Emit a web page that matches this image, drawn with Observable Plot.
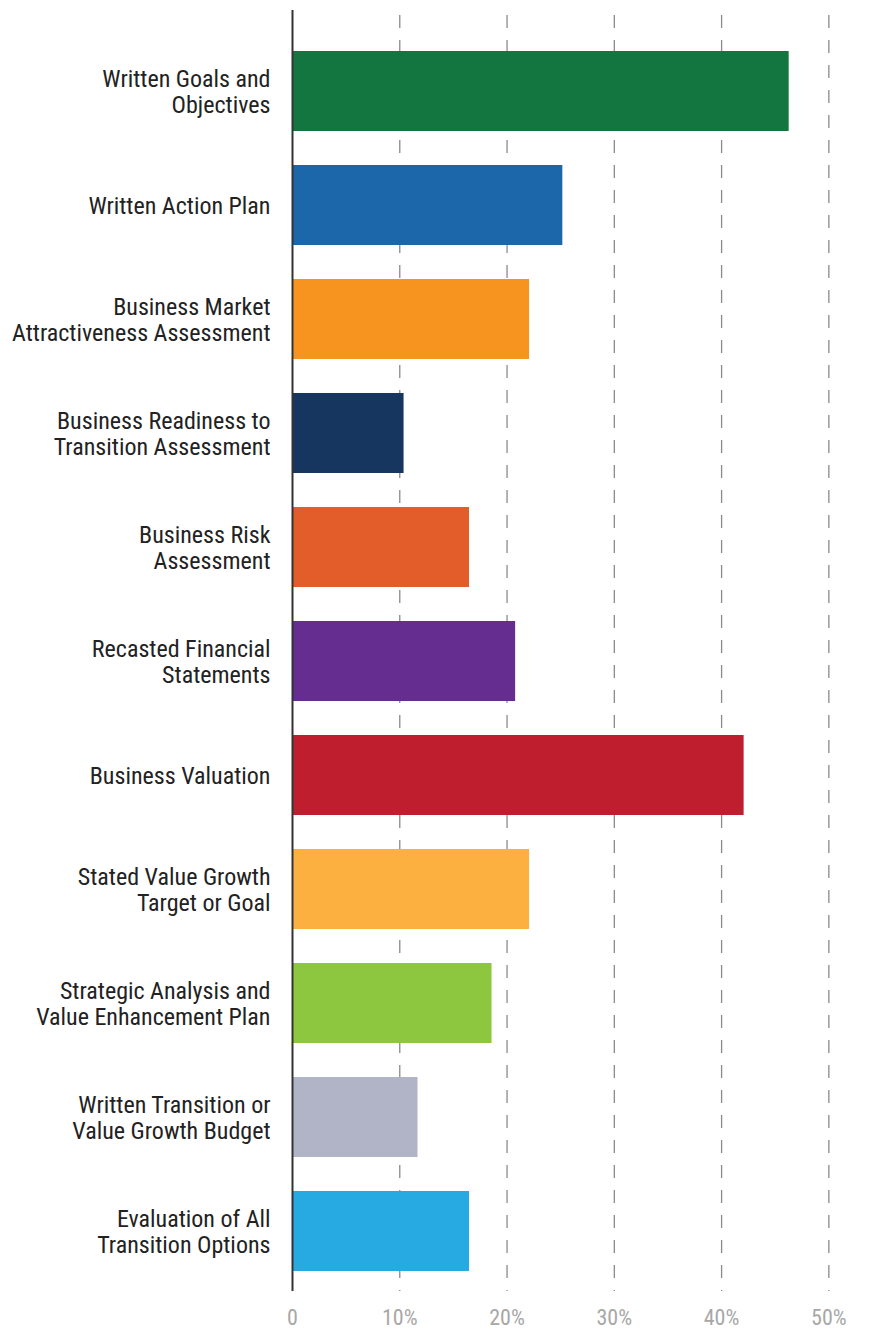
<!DOCTYPE html>
<html>
<head>
<meta charset="utf-8">
<script src="https://cdn.jsdelivr.net/npm/d3@7"></script>
<script src="https://cdn.jsdelivr.net/npm/@observablehq/plot@0.6"></script>
<style>
  html, body { margin: 0; padding: 0; background: #fff; }
  #chart svg { display: block; }
</style>
</head>
<body>
<div id="chart"></div>
<script>
const categories = [
  "Written Goals and\nObjectives",
  "Written Action Plan",
  "Business Market\nAttractiveness Assessment",
  "Business Readiness to\nTransition Assessment",
  "Business Risk\nAssessment",
  "Recasted Financial\nStatements",
  "Business Valuation",
  "Stated Value Growth\nTarget or Goal",
  "Strategic Analysis and\nValue Enhancement Plan",
  "Written Transition or\nValue Growth Budget",
  "Evaluation of All\nTransition Options"
];
const values = [0.463, 0.252, 0.221, 0.104, 0.165, 0.208, 0.421, 0.221, 0.186, 0.117, 0.165];
const colors = ["#137540", "#1b67a9", "#f7941f", "#16365f", "#e25d2a", "#662d91", "#be1e2d", "#fbb040", "#8dc63f", "#b1b3c6", "#27aae1"];
const xTicks = [0, 0.1, 0.2, 0.3, 0.4, 0.5];
const xTickLabels = ["0", "10%", "20%", "30%", "40%", "50%"];
const gridTicks = [0.1, 0.2, 0.3, 0.4, 0.5];

const data = categories.map((c, i) => ({category: c, value: values[i], color: colors[i]}));

const font = "'Roboto Condensed', 'Liberation Sans Narrow', 'DejaVu Sans Condensed', Roboto, sans-serif";

const chart = Plot.plot({
  width: 884,
  height: 1332,
  marginLeft: 292,
  marginRight: 2,
  marginTop: 10,
  marginBottom: 41,
  style: {fontFamily: font, background: "#fff"},
  x: {domain: [0, 0.55]},
  y: {domain: categories, paddingInner: 0.3, paddingOuter: 0.15, insetTop: 23, insetBottom: 2},
  marks: [
    Plot.ruleX(gridTicks, {x: d => d, stroke: "#8a8a8a", strokeWidth: 1.3, strokeDasharray: "13,12", strokeDashoffset: -5}),
    Plot.barX(data, {x: "value", y: "category", fill: "color"}),
    Plot.ruleX([0], {stroke: "#333", strokeWidth: 2}),
    Plot.ruleY([0], {frameAnchor: "bottom", stroke: "#333", strokeWidth: 2}),
    Plot.axisY({tickSize: 0, tickPadding: 22, fontSize: 24, fontWeight: 400, fill: "#222", lineHeight: 1.07, label: null}),
    Plot.axisX({ticks: xTicks, tickFormat: (d, i) => xTickLabels[i], tickSize: 0, tickPadding: 18, fontSize: 22, fill: "#a7a7a7", label: null})
  ]
});
document.getElementById("chart").appendChild(chart);
</script>
</body>
</html>
